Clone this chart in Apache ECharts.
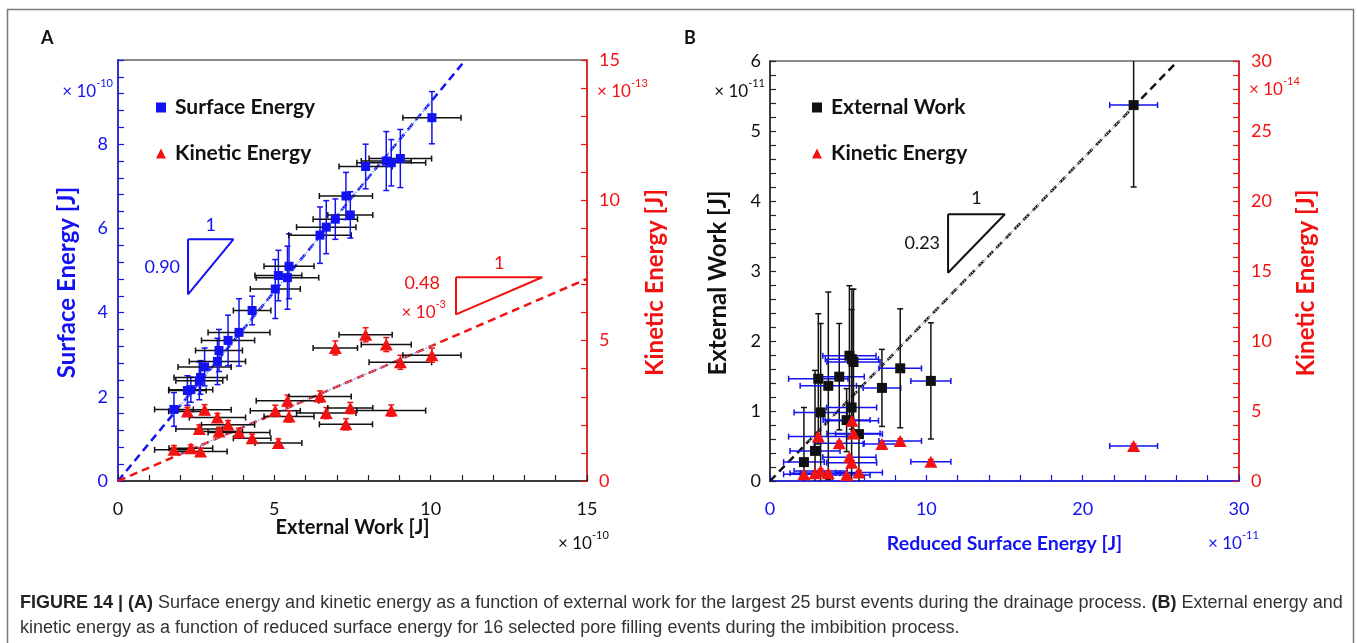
<!DOCTYPE html>
<html>
<head>
<meta charset="utf-8">
<script src="https://cdn.jsdelivr.net/npm/echarts@6/dist/echarts.min.js"></script>
<style>
  html, body { margin: 0; padding: 0; background: #fff; }
  #chart { width: 1357px; height: 643px; }
</style>
</head>
<body>
<div id="chart"></div>
<script>
// ---------- Panel A: 25 largest burst events (drainage), units ×1e-10 J / ×1e-13 J ----------
const workA     = [1.79, 2.22, 2.33, 2.60, 2.64, 2.77, 3.18, 3.23, 3.52, 3.87, 4.29, 5.03, 5.13, 5.42, 5.47, 6.46, 6.66, 6.95, 7.29, 7.43, 7.92, 8.58, 8.74, 9.03, 10.04];
const workErrA  = [0.62, 0.60, 0.70, 0.75, 0.85, 0.85, 0.90, 0.75, 0.85, 0.99, 0.60, 0.80, 0.75, 1.00, 0.80, 1.00, 0.95, 0.71, 0.85, 0.72, 0.85, 0.80, 1.10, 1.00, 0.93];
const surfA     = [1.70, 2.15, 2.17, 2.38, 2.46, 2.71, 2.84, 3.10, 3.34, 3.53, 4.05, 4.56, 4.88, 4.83, 5.10, 5.84, 6.03, 6.22, 6.77, 6.32, 7.47, 7.60, 7.56, 7.66, 8.63];
const surfErrA  = [0.40, 0.35, 0.30, 0.45, 0.40, 0.45, 0.55, 0.50, 0.60, 0.80, 0.34, 0.70, 0.60, 0.75, 0.77, 0.67, 0.63, 0.48, 0.56, 0.55, 0.53, 0.70, 0.55, 0.69, 0.62];
const kinA      = [1.11, 2.48, 1.17, 1.85, 1.05, 2.54, 2.26, 1.76, 2.00, 1.73, 1.52, 2.50, 1.35, 2.86, 2.30, 3.01, 2.42, 4.74, 2.02, 2.60, 5.21, 4.86, 2.51, 4.23, 4.48];
const kinErrA   = [0.15, 0.15, 0.12, 0.15, 0.12, 0.18, 0.15, 0.15, 0.15, 0.15, 0.15, 0.20, 0.15, 0.20, 0.20, 0.20, 0.20, 0.25, 0.20, 0.20, 0.25, 0.25, 0.20, 0.25, 0.25];

// ---------- Panel B: 16 pore filling events (imbibition), units ×1e-11 J / ×1e-14 J ----------
const surfB     = [2.17, 2.88, 3.09, 3.24, 3.73, 4.43, 4.90, 5.08, 5.22, 5.24, 5.34, 5.69, 7.16, 8.33, 10.29, 23.26];
const surfErrB  = [1.30, 1.60, 1.90, 1.70, 1.80, 1.60, 1.50, 1.70, 1.60, 1.70, 1.70, 1.50, 1.20, 1.36, 1.28, 1.53];
const workB     = [0.27, 0.43, 1.46, 0.98, 1.36, 1.49, 0.87, 1.79, 1.05, 1.74, 1.70, 0.67, 1.33, 1.61, 1.43, 5.37];
const workErrB  = [0.78, 1.15, 0.93, 1.27, 1.34, 0.76, 0.45, 1.00, 1.40, 1.00, 1.04, 0.69, 0.55, 0.85, 0.83, 1.17];
const kinB      = [0.48, 0.55, 3.17, 0.71, 0.55, 2.69, 0.43, 1.69, 1.31, 4.31, 3.40, 0.60, 2.64, 2.86, 1.38, 2.50];
const kinErrB   = [0.15, 0.15, 0.15, 0.15, 0.15, 0.15, 0.15, 0.15, 0.15, 0.15, 0.15, 0.15, 0.15, 0.15, 0.15, 0.15];

// Fitted slopes
const slopeSurfA = 0.90;   // surface energy vs external work
const slopeKinA  = 0.48;   // kinetic energy vs external work (×10^-3)
const slopeB     = 0.23;   // external work vs reduced surface energy

// Axis tick values
const ticksAx = [0, 5, 10, 15];
const ticksAyL = [0, 2, 4, 6, 8];
const ticksAyR = [0, 5, 10, 15];
const ticksBx = [0, 10, 20, 30];
const ticksByL = [0, 1, 2, 3, 4, 5, 6];
const ticksByR = [0, 5, 10, 15, 20, 25, 30];

const BLUE = '#1212f2';
const RED = '#f21212';
const BLACK = '#111';
const FONT = 'Lato';

function errorBars(xAxisIndex, yAxisIndex, xs, ys, xe, ye, xColor, yColor, z) {
  return {
    type: 'custom', xAxisIndex, yAxisIndex, clip: true, silent: true, z,
    data: xs.map((x, i) => [x, ys[i], xe[i], ye[i]]),
    encode: { x: 0, y: 1 },
    renderItem(params, api) {
      const x = api.value(0), y = api.value(1), ex = api.value(2), ey = api.value(3);
      const l = api.coord([x - ex, y]), r = api.coord([x + ex, y]);
      const t = api.coord([x, y + ey]), b = api.coord([x, y - ey]);
      const c = 3;
      const sx = { stroke: xColor, lineWidth: 1.5 };
      const sy = { stroke: yColor, lineWidth: 1.5 };
      const kids = [];
      if (ex > 0) {
        kids.push({ type: 'line', shape: { x1: l[0], y1: l[1], x2: r[0], y2: r[1] }, style: sx });
        kids.push({ type: 'line', shape: { x1: l[0], y1: l[1] - c, x2: l[0], y2: l[1] + c }, style: sx });
        kids.push({ type: 'line', shape: { x1: r[0], y1: r[1] - c, x2: r[0], y2: r[1] + c }, style: sx });
      }
      if (ey > 0) {
        kids.push({ type: 'line', shape: { x1: t[0], y1: t[1], x2: b[0], y2: b[1] }, style: sy });
        kids.push({ type: 'line', shape: { x1: t[0] - c, y1: t[1], x2: t[0] + c, y2: t[1] }, style: sy });
        kids.push({ type: 'line', shape: { x1: b[0] - c, y1: b[1], x2: b[0] + c, y2: b[1] }, style: sy });
      }
      return { type: 'group', children: kids };
    }
  };
}

function pairs(xs, ys) { return xs.map((x, i) => [x, ys[i]]); }

function slopeTriangle(x0, y0, w, slope) {
  return [[x0, y0], [x0 + w, y0], [x0, y0 - w * slope], [x0, y0]];
}

function lineSeries(xAxisIndex, yAxisIndex, data, color, type, width, z) {
  return {
    type: 'line', xAxisIndex, yAxisIndex, data, z, silent: true,
    symbol: 'none', clip: true, animation: false,
    lineStyle: { color, width, type }
  };
}

function valueAxis(opts) {
  const color = opts.color;
  return {
    type: 'value', min: opts.min, max: opts.max, interval: opts.interval,
    gridIndex: opts.grid, position: opts.position,
    axisLine: { show: true, onZero: false, lineStyle: { color, width: 1.5 } },
    axisTick: { show: true, inside: true, length: 6, lineStyle: { color, width: 1.2 } },
    minorTick: { show: true, splitNumber: opts.minor, length: 6, lineStyle: { color, width: 1.2 } },
    splitLine: { show: false },
    axisLabel: {
      color: opts.labelColor || color, fontFamily: FONT, fontSize: 18, margin: opts.margin,
      formatter: v => (opts.ticks.indexOf(v) >= 0 ? String(v) : '')
    },
    name: opts.name, nameLocation: 'middle', nameGap: opts.nameGap,
    nameRotate: opts.nameRotate,
    nameMoveOverlap: false,
    nameTextStyle: {
      color: opts.nameColor, fontFamily: FONT, fontWeight: 'bold', fontSize: opts.nameSize,
      padding: opts.namePadding || 0
    }
  };
}

const chart = echarts.init(document.getElementById('chart'), null, { renderer: 'canvas' });

const gridA = { left: 118, top: 60, width: 469, height: 421 };
const gridB = { left: 770, top: 61, width: 469, height: 420 };
const vPad = [0, 24, 0, 0];

const legendText = { fontFamily: FONT, fontWeight: 'bold', fontSize: 21, color: BLACK, padding: [0, 0, 0, 4] };

const option = {
  animation: false,
  backgroundColor: '#fff',
  grid: [
    Object.assign({ show: true, borderColor: '#666', borderWidth: 1.5, containLabel: false }, gridA),
    Object.assign({ show: true, borderColor: '#666', borderWidth: 1.5, containLabel: false }, gridB)
  ],
  xAxis: [
    valueAxis({ grid: 0, position: 'bottom', min: 0, max: 15, interval: 5, minor: 5, ticks: ticksAx,
      color: '#222', labelColor: BLACK, margin: 19, name: 'External Work [J]', nameGap: 37,
      nameColor: BLACK, nameSize: 20 }),
    valueAxis({ grid: 1, position: 'bottom', min: 0, max: 30, interval: 10, minor: 5, ticks: ticksBx,
      color: BLUE, margin: 19, name: 'Reduced Surface Energy [J]', nameGap: 53,
      nameColor: BLUE, nameSize: 19.5 })
  ],
  yAxis: [
    valueAxis({ grid: 0, position: 'left', min: 0, max: 10, interval: 2, minor: 5, ticks: ticksAyL,
      color: BLUE, margin: 10, name: 'Surface Energy [J]', nameGap: 39, nameRotate: 90,
      nameColor: BLUE, nameSize: 24, namePadding: vPad }),
    valueAxis({ grid: 0, position: 'right', min: 0, max: 15, interval: 5, minor: 5, ticks: ticksAyR,
      color: RED, margin: 12, name: 'Kinetic Energy [J]', nameGap: 56, nameRotate: 90,
      nameColor: RED, nameSize: 24, namePadding: vPad }),
    valueAxis({ grid: 1, position: 'left', min: 0, max: 6, interval: 1, minor: 5, ticks: ticksByL,
      color: '#222', labelColor: BLACK, margin: 9, name: 'External Work [J]', nameGap: 40, nameRotate: 90,
      nameColor: BLACK, nameSize: 24, namePadding: vPad }),
    valueAxis({ grid: 1, position: 'right', min: 0, max: 30, interval: 5, minor: 5, ticks: ticksByR,
      color: RED, margin: 12, name: 'Kinetic Energy [J]', nameGap: 55, nameRotate: 90,
      nameColor: RED, nameSize: 24, namePadding: vPad })
  ],
  legend: [
    {
      orient: 'vertical', left: 151, top: 92, itemGap: 25, itemWidth: 10, itemHeight: 10,
      textStyle: legendText,
      data: [{ name: 'Surface Energy', icon: 'rect' }, { name: 'Kinetic Energy', icon: 'triangle' }]
    },
    {
      orient: 'vertical', left: 807, top: 92, itemGap: 25, itemWidth: 10, itemHeight: 10,
      textStyle: legendText,
      data: [{ name: 'External Work', icon: 'rect' }, { name: 'Kinetic Energy', icon: 'triangle' }]
    }
  ],
  series: [
    // ----- Panel A -----
    lineSeries(0, 0, [[0, 0], [10 / slopeSurfA, 10]], BLUE, [8, 5], 2.5, 2),
    lineSeries(0, 1, [[0, 0], [15, 15 * slopeKinA]], RED, [8, 5], 2.5, 2),
    lineSeries(0, 0, [[1.8, 1.8 * slopeSurfA], [10, 10 * slopeSurfA]], '#7fa6ee', 'dotted', 1.5, 2),
    lineSeries(0, 1, [[2.0, 2.0 * slopeKinA], [10.1, 10.1 * slopeKinA]], '#7fa6ee', 'dotted', 1.5, 2),
    lineSeries(0, 0, slopeTriangle(2.24, 5.74, 1.45, slopeSurfA), BLUE, 'solid', 2, 2),
    lineSeries(0, 1, slopeTriangle(10.81, 7.26, 2.76, slopeKinA), RED, 'solid', 2, 2),
    errorBars(0, 1, workA, kinA, workErrA, kinErrA, BLACK, RED, 3),
    errorBars(0, 0, workA, surfA, workErrA, surfErrA, BLACK, BLUE, 4),
    {
      name: 'Kinetic Energy', type: 'scatter', xAxisIndex: 0, yAxisIndex: 1, z: 5,
      symbol: 'triangle', symbolSize: [13, 12], itemStyle: { color: RED, opacity: 1 },
      data: pairs(workA, kinA)
    },
    {
      name: 'Surface Energy', type: 'scatter', xAxisIndex: 0, yAxisIndex: 0, z: 6,
      symbol: 'rect', symbolSize: 9, itemStyle: { color: BLUE, opacity: 1 },
      data: pairs(workA, surfA)
    },
    // ----- Panel B -----
    lineSeries(1, 2, [[0, 0], [26, 26 * slopeB]], BLACK, [8, 5], 2.5, 2),
    lineSeries(1, 2, [[2.5, 2.5 * slopeB], [23.3, 23.3 * slopeB]], '#bbbbbb', 'dotted', 1.5, 2),
    lineSeries(1, 2, slopeTriangle(11.39, 3.81, 3.63, slopeB), BLACK, 'solid', 2, 2),
    errorBars(1, 3, surfB, kinB, surfErrB, kinErrB, BLUE, RED, 3),
    errorBars(1, 2, surfB, workB, surfErrB, workErrB, BLUE, BLACK, 4),
    {
      name: 'External Work', type: 'scatter', xAxisIndex: 1, yAxisIndex: 2, z: 5,
      symbol: 'rect', symbolSize: 10, itemStyle: { color: BLACK, opacity: 1 },
      data: pairs(surfB, workB)
    },
    {
      name: 'Kinetic Energy', type: 'scatter', xAxisIndex: 1, yAxisIndex: 3, z: 6,
      symbol: 'triangle', symbolSize: [13, 12], itemStyle: { color: RED, opacity: 1 },
      data: pairs(surfB, kinB)
    }
  ]
};

chart.setOption(option);

// ---------- Text annotations ----------
function sup(base, exp, color, x, y, align) {
  return {
    type: 'text', x, y, z: 50,
    style: {
      text: '{a|' + base + '}{s|' + exp + '}', align: align || 'left', verticalAlign: 'middle',
      fill: color, fontFamily: FONT,
      rich: {
        a: { fontSize: 17, lineHeight: 22, verticalAlign: 'bottom', fill: color, fontFamily: FONT },
        s: { fontSize: 11, lineHeight: 22, verticalAlign: 'top', fill: color, fontFamily: FONT }
      }
    }
  };
}

function px(xAxisIdx, yAxisIdx, pt) {
  return chart.convertToPixel({ xAxisIndex: xAxisIdx, yAxisIndex: yAxisIdx }, pt);
}

function label(text, p, dx, dy, color, size, align) {
  return {
    type: 'text', x: p[0] + dx, y: p[1] + dy, z: 50,
    style: { text, fill: color, fontFamily: FONT, fontSize: size, align: align || 'center', verticalAlign: 'middle' }
  };
}

const triA1 = px(0, 0, [2.24 + 1.45 / 2, 5.74]);
const triA1L = px(0, 0, [2.24, 5.74 - 1.45 * slopeSurfA / 2]);
const triA2 = px(0, 1, [10.81 + 2.76 / 2, 7.26]);
const triA2L = px(0, 1, [10.81, 7.26]);
const triB = px(1, 2, [11.39 + 3.63 / 2, 3.81]);
const triBL = px(1, 2, [11.39, 3.81 - 3.63 * slopeB / 2]);

const captionLine1 = '{b|FIGURE 14 | (A)} Surface energy and kinetic energy as a function of external work for the largest 25 burst events during the drainage process. {b|(B)} External energy and';
const captionLine2 = 'kinetic energy as a function of reduced surface energy for 16 selected pore filling events during the imbibition process.';
const CAP = 18;

chart.setOption({
  graphic: [
    { type: 'rect', shape: { x: 7.5, y: 9.5, width: 1346, height: 700 }, style: { fill: 'none', stroke: '#7a7a7a', lineWidth: 1.5 }, z: 0 },
    { type: 'text', x: 41, y: 38, style: { text: 'A', fill: BLACK, fontFamily: FONT, fontWeight: 'bold', fontSize: 18, verticalAlign: 'middle' } },
    { type: 'text', x: 684, y: 38, style: { text: 'B', fill: BLACK, fontFamily: FONT, fontWeight: 'bold', fontSize: 18, verticalAlign: 'middle' } },
    sup('× 10', '-10', BLUE, 113, 89, 'right'),
    sup('× 10', '-13', RED, 597, 89, 'left'),
    sup('× 10', '-10', BLACK, 558, 541, 'left'),
    sup('× 10', '-11', BLACK, 765, 89, 'right'),
    sup('× 10', '-14', RED, 1249, 87, 'left'),
    sup('× 10', '-11', BLUE, 1208, 541, 'left'),
    label('1', triA1, 0, -14, BLUE, 18),
    label('0.90', triA1L, -8, 0, BLUE, 18, 'right'),
    label('1', triA2, 0, -14, RED, 18),
    label('0.48', triA2L, -16, 6, RED, 18, 'right'),
    sup('× 10', '-3', RED, 446, 310, 'right'),
    label('1', triB, 0, -16, BLACK, 18),
    label('0.23', triBL, -8, 0, BLACK, 18, 'right'),
    {
      type: 'text', x: 20, y: 603, z: 50,
      style: {
        text: captionLine1, fill: '#333', fontFamily: 'Liberation Sans', fontSize: CAP, verticalAlign: 'middle',
        rich: { b: { fontWeight: 'bold', fill: '#222', fontFamily: 'Liberation Sans', fontSize: CAP } }
      }
    },
    {
      type: 'text', x: 20, y: 628, z: 50,
      style: { text: captionLine2, fill: '#333', fontFamily: 'Liberation Sans', fontSize: CAP, verticalAlign: 'middle' }
    }
  ]
});
</script>
</body>
</html>
